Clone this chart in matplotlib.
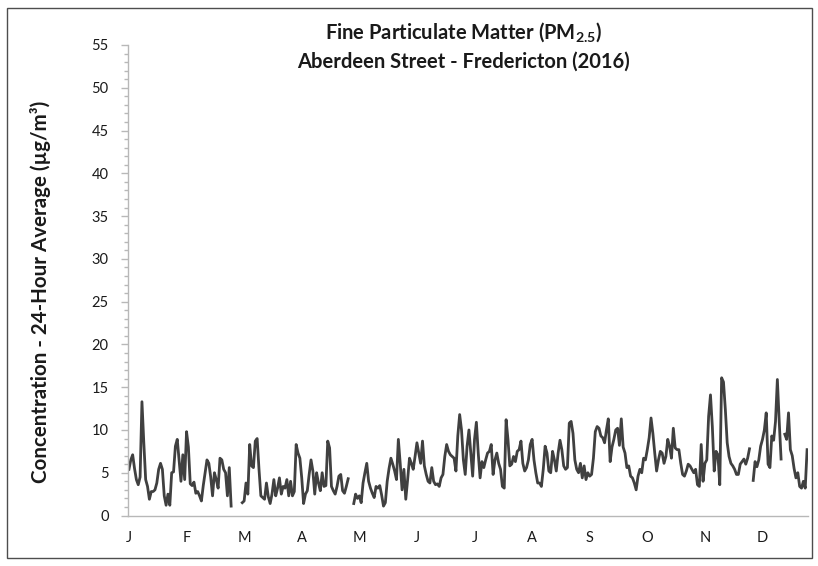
import datetime as dt

import matplotlib
matplotlib.use("Agg")
import matplotlib.pyplot as plt
import numpy as np
from matplotlib.patches import Rectangle
from matplotlib.ticker import MultipleLocator

# daily 24-hour PM2.5 averages (ug/m3) for 2016, None = no data
jan = [5.4, 6.5, 7.1, 5.5, 4.2, 3.6, 4.5, 13.3, 8.5, 4.2,
       3.4, 1.9, 2.8, 2.8, 3.0, 3.8, 5.4, 6.1, 5.4, 2.3,
       1.2, 2.5, 1.2, 5.0, 5.1, 8.1, 8.9, 6.5, 4.0, 7.1,
       4.2]
feb = [9.8, 8.0, 3.7, 3.5, 3.9, 2.6, 2.8, 2.3, 1.7, 3.5,
       5.0, 6.5, 6.1, 4.5, 2.3, 5.0, 4.2, 3.2, 6.7, 6.5,
       5.4, 5.0, 2.3, 5.6, 1.1, None, None, None, None]
mar = [None, 1.5, 1.7, 3.8, 2.5, 8.3, 5.8, 5.6, 8.7, 9.0,
       5.4, 2.3, 2.1, 1.9, 3.8, 2.2, 1.4, 2.5, 4.2, 2.3,
       3.2, 4.4, 2.5, 3.4, 3.2, 4.2, 2.3, 4.0, 2.3, 2.8,
       8.3]
apr = [7.3, 6.7, 4.4, 1.4, 2.5, 2.9, 4.8, 6.5, 5.2, 2.5,
       5.0, 3.8, 2.9, 5.0, 3.4, 3.5, 8.7, 7.9, 3.4, 2.9,
       2.5, 3.4, 4.6, 4.8, 2.9, 2.6, 3.4, 4.3, None, None]
may = [1.4, 2.5, 2.0, 2.3, 1.5, 3.8, 5.0, 6.1, 4.0, 3.2,
       2.6, 2.1, 3.4, 3.2, 3.5, 2.4, 1.1, 1.5, 4.0, 5.5,
       6.7, 6.0, 5.2, 4.2, 8.9, 6.1, 3.0, 5.4, 1.9, 4.2,
       6.7]
jun = [6.1, 5.4, 6.9, 8.5, 7.3, 6.1, 8.7, 5.8, 4.8, 4.0,
       3.8, 5.6, 4.0, 3.6, 3.7, 3.4, 4.4, 4.8, 6.9, 8.3,
       7.5, 7.1, 6.9, 6.7, 5.2, 9.3, 11.8, 10.0, 6.5, 4.8]
jul = [8.1, 10.0, 7.3, 4.6, 8.9, 10.9, 7.3, 4.4, 6.3, 5.6,
       6.5, 7.3, 7.5, 8.3, 4.8, 6.5, 7.3, 6.1, 5.4, 3.4,
       3.2, 11.2, 8.9, 5.8, 6.0, 6.9, 6.3, 7.5, 7.7, 8.7,
       6.1]
aug = [5.2, 5.6, 6.5, 8.3, 8.9, 6.5, 5.0, 3.8, 3.8, 3.4,
       5.4, 8.1, 7.3, 5.2, 5.0, 7.5, 6.5, 5.2, 7.3, 8.8,
       7.7, 5.8, 5.4, 5.6, 10.8, 11.0, 9.6, 6.5, 5.4, 5.0,
       6.1]
sep = [4.4, 5.8, 4.2, 5.0, 4.6, 4.8, 6.7, 9.8, 10.4, 10.2,
       9.3, 9.1, 8.5, 10.0, 11.3, 6.3, 8.0, 8.9, 10.0, 10.2,
       8.2, 11.3, 8.0, 7.3, 5.6, 5.8, 4.6, 4.4, 3.8, 3.0]
oct_ = [4.6, 5.4, 5.0, 6.7, 6.5, 7.7, 9.1, 11.4, 9.6, 7.3,
        5.2, 6.5, 7.5, 7.3, 6.1, 6.9, 8.9, 8.1, 6.7, 10.2,
        7.9, 7.7, 7.7, 6.1, 4.8, 4.6, 5.2, 6.0, 5.8, 5.4,
        5.0]
nov = [5.4, 3.6, 3.4, 8.3, 4.0, 6.1, 6.5, 11.6, 14.1, 10.4,
       5.2, 7.5, 7.1, 3.6, 16.1, 15.6, 12.4, 8.5, 6.9, 6.1,
       5.8, 5.4, 4.8, 4.8, 6.0, 6.3, 6.6, 6.0, 6.7, 7.8]
dec = [None, 4.1, 6.3, 5.7, 6.5, 8.1, 8.9, 10.0, 12.0, 6.0,
       5.6, 9.3, 8.8, 11.0, 15.9, 11.0, 6.6, None, 9.5, 8.9,
       12.0, 7.7, 7.0, 5.5, 4.4, 5.0, 3.4, 3.2, 4.0, 3.2,
       7.7]

pm25 = jan + feb + mar + apr + may + jun + jul + aug + sep + oct_ + nov + dec
values = np.array([np.nan if v is None else v for v in pm25], dtype=float)
days = np.arange(len(values))

start = dt.date(2016, 1, 1)
label_days = list(range(0, len(values), 31))
labels = [(start + dt.timedelta(days=d)).strftime("%B")[0] for d in label_days]

plt.rcParams["font.family"] = ["Lato", "DejaVu Sans"]
plt.rcParams["mathtext.fontset"] = "custom"
plt.rcParams["mathtext.rm"] = "Lato"
plt.rcParams["mathtext.bf"] = "Lato:bold"

axis_grey = "#b8b8b8"
text_col = "#1a1a1a"

fig = plt.figure(figsize=(8.18, 5.66), dpi=100)
ax = fig.add_axes([0.1565, 0.0892, 0.8313, 0.8313])

ax.plot(days, values, color="#404040", lw=2.0, solid_joinstyle="round")

ax.set_xlim(-0.5, len(values) - 0.5)
ax.set_ylim(0, 55)
ax.set_yticks(range(0, 56, 5))
ax.yaxis.set_minor_locator(MultipleLocator(1))
ax.set_xticks(label_days)
ax.set_xticklabels(labels)

for s in ["top", "right"]:
    ax.spines[s].set_visible(False)
for s in ["left", "bottom"]:
    ax.spines[s].set_color(axis_grey)
    ax.spines[s].set_linewidth(1.0)

ax.tick_params(axis="y", which="major", length=5, width=1, color=axis_grey,
               labelsize=10.5, labelcolor=text_col, pad=9)
ax.tick_params(axis="y", which="minor", length=3, width=1, color=axis_grey)
ax.tick_params(axis="x", length=0, pad=11, labelsize=10.5, labelcolor=text_col)

fig.text(0.567, 0.944, r"Fine Particulate Matter (PM$_\mathbf{2.5}$)",
         ha="center", va="center", fontsize=14.5, weight="bold", color=text_col)
fig.text(0.567, 0.891, "Aberdeen Street - Fredericton (2016)",
         ha="center", va="center", fontsize=14.5, weight="bold", color=text_col)
fig.text(0.049, 0.484, "Concentration - 24-Hour Average (µg/m³)",
         rotation=90, ha="center", va="center", fontsize=14.8,
         weight="bold", color=text_col)

fig.patches.append(Rectangle((7 / 818, 8 / 566), 805 / 818, 550 / 566,
                             transform=fig.transFigure, fill=False,
                             ec="#4d4d4d", lw=1.0))

fig.savefig("out.png", dpi=100)
